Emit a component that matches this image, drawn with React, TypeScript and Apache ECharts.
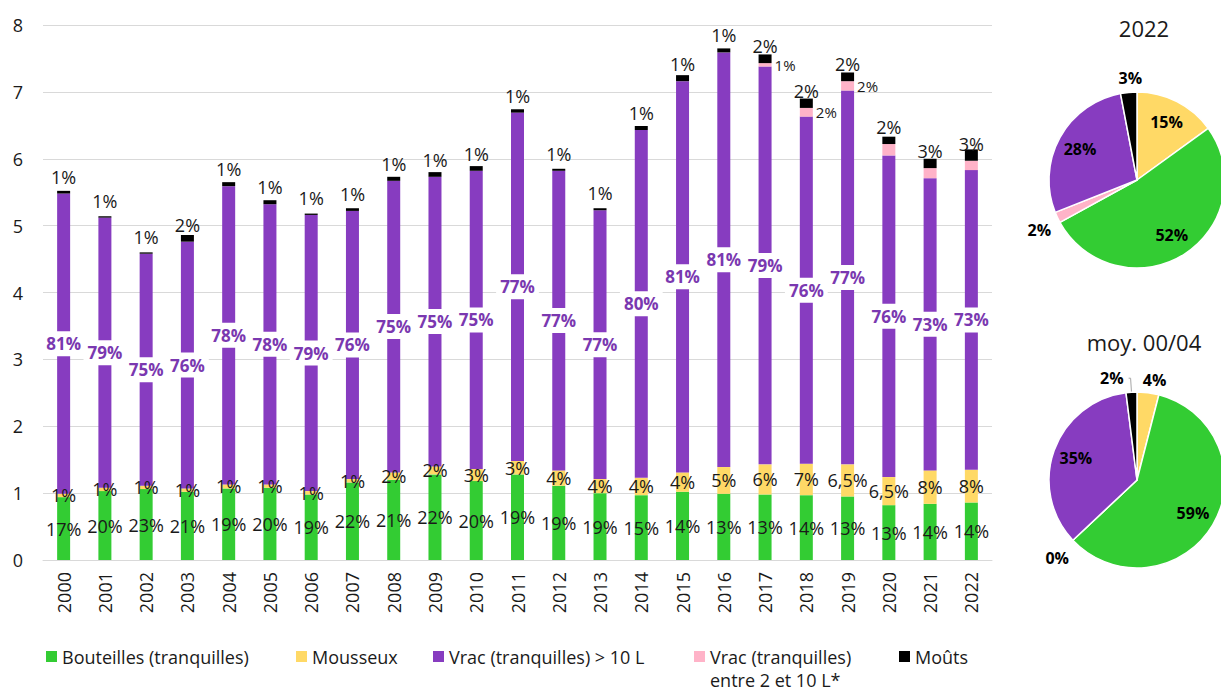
import React, { useEffect, useRef } from "react";
import * as echarts from "echarts";

const years = ["2000","2001","2002","2003","2004","2005","2006","2007","2008","2009","2010","2011","2012","2013","2014","2015","2016","2017","2018","2019","2020","2021","2022"];

const bouteilles = [0.94,1.03,1.06,1.02,1.07,1.08,0.98,1.16,1.20,1.28,1.18,1.28,1.11,1.00,0.97,1.02,0.99,0.98,0.97,0.95,0.82,0.84,0.86];
const mousseux = [0.05,0.05,0.05,0.05,0.06,0.05,0.05,0.05,0.11,0.12,0.18,0.20,0.23,0.21,0.26,0.29,0.40,0.45,0.47,0.48,0.42,0.50,0.49];
const vracGrand = [4.49,4.04,3.47,3.69,4.46,4.19,4.13,4.01,4.36,4.33,4.46,5.21,4.48,4.02,5.20,5.85,6.20,5.95,5.19,5.59,4.81,4.37,4.48];
const vracPetit = [0,0,0,0,0,0,0,0,0,0,0,0,0,0,0,0,0,0.05,0.13,0.14,0.17,0.15,0.14];
const mouts = [0.04,0.02,0.02,0.10,0.06,0.06,0.02,0.04,0.06,0.07,0.07,0.05,0.03,0.03,0.06,0.09,0.06,0.13,0.14,0.13,0.11,0.14,0.17];

const bouteillesPct = ["17%","20%","23%","21%","19%","20%","19%","22%","21%","22%","20%","19%","19%","19%","15%","14%","13%","13%","14%","13%","13%","14%","14%"];
const mousseuxPct = ["1%","1%","1%","1%","1%","1%","1%","1%","2%","2%","3%","3%","4%","4%","4%","4%","5%","6%","7%","6,5%","6,5%","8%","8%"];
const vracGrandPct = ["81%","79%","75%","76%","78%","78%","79%","76%","75%","75%","75%","77%","77%","77%","80%","81%","81%","79%","76%","77%","76%","73%","73%"];
const vracPetitPct = ["","","","","","","","","","","","","","","","","","1%","2%","2%","","",""];
const moutsPct = ["1%","1%","1%","2%","1%","1%","1%","1%","1%","1%","1%","1%","1%","1%","1%","1%","1%","2%","2%","2%","2%","3%","3%"];

const names = ["Bouteilles (tranquilles)", "Mousseux", "Vrac (tranquilles) > 10 L", "Vrac (tranquilles)\nentre 2 et 10 L*", "Moûts"];
const colors = ["#33CC33", "#FFD966", "#873CC0", "#FFB3C8", "#000000"];

// pie order: Mousseux, Bouteilles, Vrac 2-10, Vrac >10, Moûts
const pieOrder = [1, 0, 3, 2, 4];
const pie2022 = [15, 52, 2, 28, 3];
const pieMoy = [4, 59, 0, 35, 2];

const FONT = "Open Sans";

export default function App() {
  const ref = useRef<HTMLDivElement>(null);
  useEffect(() => {
    const chart = echarts.init(ref.current!, null, { renderer: "svg" });

    const barSeries = (i: number, values: number[], pct: string[], label: any) => ({
      name: names[i],
      type: "bar",
      stack: "total",
      barWidth: 13,
      itemStyle: { color: colors[i] },
      data: values,
      label: {
        show: true,
        fontFamily: FONT,
        formatter: (p: any) => pct[p.dataIndex],
        ...label,
      },
    });

    const pieSeries = (center: number[], values: number[], small: any[]) => {
      const dataVisible = pieOrder.map((k, j) => {
        const s = small[j];
        return {
          name: names[k],
          value: values[j],
          itemStyle: { color: colors[k] },
          label: s ? { show: true, position: "outside" } : { show: false },
          labelLine: s ? { show: !!s.line, length: s.len ?? 8, length2: s.len2 ?? 4 } : { show: false },
        };
      });
      const dataLabels = pieOrder.map((k, j) => ({
        name: names[k],
        value: values[j],
        label: { show: !small[j] },
      }));
      return [
        {
          type: "pie",
          center,
          radius: 88,
          startAngle: 90,
          clockwise: true,
          avoidLabelOverlap: false,
          itemStyle: { borderColor: "#fff", borderWidth: 1.5 },
          label: { fontFamily: FONT, fontSize: 16, fontWeight: "bold", color: "#000", formatter: "{c}%" },
          labelLine: { lineStyle: { color: "#a6a6a6", width: 1 } },
          labelLayout: (p: any) => {
            const s = small[p.dataIndex];
            return s && s.shift ? { dx: s.shift[0], dy: s.shift[1] } : {};
          },
          data: dataVisible,
          emphasis: { disabled: true },
        },
        {
          type: "pie",
          center,
          radius: [36, 88],
          startAngle: 90,
          clockwise: true,
          silent: true,
          avoidLabelOverlap: false,
          itemStyle: { color: "rgba(0,0,0,0)" },
          label: { position: "inside", fontFamily: FONT, fontSize: 16, fontWeight: "bold", color: "#000", formatter: "{c}%" },
          labelLine: { show: false },
          data: dataLabels,
          emphasis: { disabled: true },
        },
      ];
    };

    const legendText = { fontFamily: FONT, fontSize: 18, color: "#1a1a1a", lineHeight: 23 };
    const legendAt = (i: number, left: number, top: number) => ({
      left,
      top,
      padding: 0,
      icon: "rect",
      itemWidth: 11,
      itemHeight: 11,
      textStyle: legendText,
      formatter: (n: string) => (n === names[3] ? " \n" + n : n),
      data: [names[i]],
    });

    const option: any = {
      animation: false,
      textStyle: { fontFamily: FONT },
      title: [
        { text: "2022", left: 1139, top: 12, textAlign: "center", textStyle: { fontFamily: FONT, fontSize: 22, fontWeight: "normal", color: "#1a1a1a" } },
        { text: "moy. 00/04", left: 1139, top: 326, textAlign: "center", textStyle: { fontFamily: FONT, fontSize: 22, fontWeight: "normal", color: "#1a1a1a" } },
      ],
      legend: [
        legendAt(0, 46, 645),
        legendAt(1, 296, 645),
        legendAt(2, 433, 645),
        legendAt(3, 694, 622),
        legendAt(4, 899, 645),
      ],
      grid: { left: 43, right: 229, top: 25, bottom: 131 },
      xAxis: {
        type: "category",
        data: years,
        axisLine: { lineStyle: { color: "#d9d9d9" } },
        axisTick: { show: false },
        axisLabel: { rotate: 90, fontSize: 18, color: "#1a1a1a", margin: 12, fontFamily: FONT },
      },
      yAxis: {
        type: "value",
        min: 0,
        max: 8,
        interval: 1,
        axisLabel: { fontSize: 18, color: "#1a1a1a", margin: 20, fontFamily: FONT },
        splitLine: { lineStyle: { color: "#d9d9d9" } },
      },
      series: [
        barSeries(0, bouteilles, bouteillesPct, { position: "inside", fontSize: 18, color: "#1a1a1a" }),
        barSeries(1, mousseux, mousseuxPct, { position: "inside", fontSize: 18, color: "#1a1a1a" }),
        barSeries(2, vracGrand, vracGrandPct, {
          position: "inside", fontSize: 17, fontWeight: "bold", color: "#7A38B0",
          backgroundColor: "#fff", padding: [4, 4],
        }),
        barSeries(3, vracPetit, vracPetitPct, { position: "right", distance: 3, fontSize: 15, color: "#1a1a1a" }),
        barSeries(4, mouts, moutsPct, { position: "insideBottom", distance: 8, fontSize: 18, color: "#1a1a1a" }),
        ...pieSeries([1137, 180], pie2022, [
          null, null,
          { len: 8, len2: 4, shift: [10, 9] },
          null,
          { len: 6, len2: 0, shift: [19, -8] },
        ]),
        ...pieSeries([1137, 480], pieMoy, [
          { len: 6, len2: 0, shift: [-11, -7] },
          null,
          { len: 8, len2: 4, shift: [11, 12] },
          null,
          { line: true, len: 14, len2: 2 },
        ]),
      ],
    };
    chart.setOption(option);
    return () => chart.dispose();
  }, []);
  return <div ref={ref} style={{ position: "fixed", left: 0, top: 0, width: 1221, height: 691, background: "#fff" }} />;
}
